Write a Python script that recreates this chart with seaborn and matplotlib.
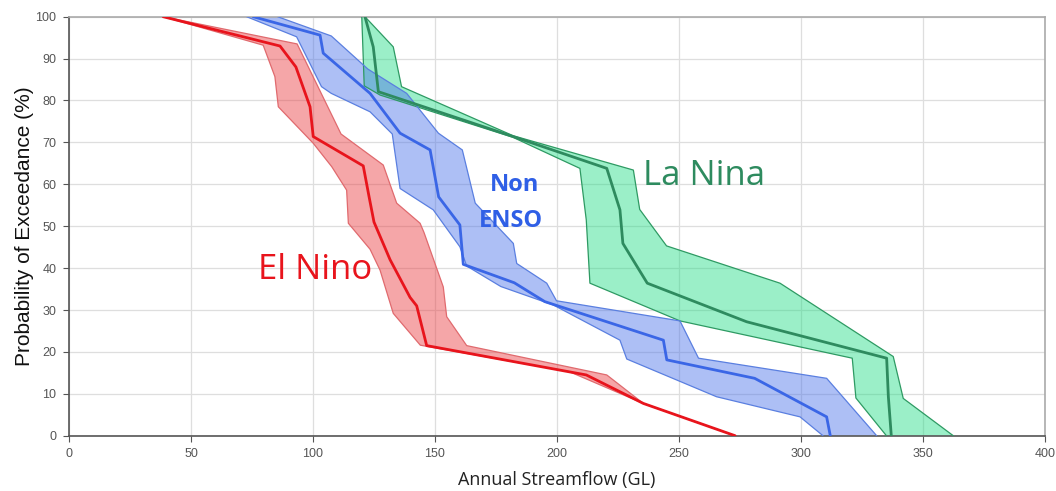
import numpy as np
import pandas as pd
import matplotlib
matplotlib.use("Agg")
import matplotlib.pyplot as plt
import seaborn as sns

# ---------------- data ----------------
el_nino_med_x = [38.6, 86.5, 93.0, 98.8, 100.1, 120.6, 123.0, 125.0, 131.6, 139.8, 142.5, 146.6, 212.0, 235.4, 273.0]
el_nino_med_y = [100, 93.0, 88.0, 78.5, 71.4, 64.4, 57.0, 51.0, 42.0, 33.0, 31.0, 21.5, 14.5, 7.7, 0]
el_nino_up_x = [38.6, 93.5, 111.5, 128.8, 134.3, 143.9, 145.5, 153.4, 154.8, 163.0, 220.4, 235.4, 273.0]
el_nino_up_y = [100, 93.5, 72.0, 64.6, 55.5, 50.7, 48.5, 35.5, 28.4, 21.5, 14.5, 7.7, 0]
el_nino_lo_x = [38.6, 79.6, 84.4, 85.8, 100.1, 107.7, 113.8, 114.5, 123.4, 127.5, 132.9, 144.0, 205.0, 235.4, 273.0]
el_nino_lo_y = [100, 93.2, 85.7, 78.5, 69.8, 64.2, 58.6, 50.7, 44.5, 39.5, 29.2, 21.6, 15.3, 7.7, 0]

non_enso_med_x = [75.5, 102.9, 104.2, 123.4, 135.7, 148.0, 151.5, 160.2, 161.6, 182.5, 195.0, 243.6, 245.0, 281.0, 310.5, 312.0]
non_enso_med_y = [100, 95.6, 91.3, 81.7, 72.2, 68.2, 57.0, 50.3, 40.9, 36.5, 32.0, 22.8, 18.1, 13.7, 4.5, 0]
non_enso_up_x = [85.5, 107.5, 122.5, 138.4, 151.4, 161.2, 166.5, 182.1, 183.5, 195.8, 199.8, 250.4, 258.0, 310.5, 331.0]
non_enso_up_y = [100, 95.4, 87.5, 81.7, 72.2, 68.2, 55.5, 45.9, 41.1, 36.4, 32.2, 27.4, 18.5, 13.7, 0]
non_enso_lo_x = [72.8, 93.3, 103.5, 107.5, 123.4, 132.5, 135.7, 149.3, 160.2, 163.0, 177.0, 198.5, 225.8, 228.6, 265.4, 299.6, 309.0]
non_enso_lo_y = [100, 95.2, 83.3, 81.7, 77.3, 72.0, 59.0, 53.9, 45.1, 40.5, 35.6, 31.2, 22.8, 18.3, 9.3, 4.5, 0]

la_nina_med_x = [121.3, 124.7, 126.8, 182.0, 220.4, 225.8, 227.0, 237.0, 277.7, 335.1, 335.8, 337.0]
la_nina_med_y = [100, 92.8, 82.1, 71.4, 63.8, 53.9, 45.9, 36.4, 27.2, 18.5, 9.3, 0]
la_nina_up_x = [121.3, 132.9, 136.3, 182.0, 231.3, 233.9, 244.9, 291.4, 337.8, 341.9, 362.4]
la_nina_up_y = [100, 92.8, 83.3, 71.6, 63.4, 54.0, 45.3, 36.4, 18.9, 8.9, 0]
la_nina_lo_x = [120.0, 121.0, 127.5, 182.0, 209.4, 212.0, 213.5, 250.4, 321.0, 322.5, 335.0]
la_nina_lo_y = [100, 83.5, 81.3, 71.2, 63.8, 51.5, 36.4, 27.4, 18.5, 9.0, 0]

x_ticks = [0, 50, 100, 150, 200, 250, 300, 350, 400]
y_ticks = [0, 10, 20, 30, 40, 50, 60, 70, 80, 90, 100]

# ---------------- style ----------------
sns.set_theme(style="whitegrid")
plt.rcParams['font.family'] = ['Liberation Sans', 'DejaVu Sans']

fig = plt.figure(figsize=(10.56, 4.91), dpi=100)
ax = fig.add_axes([0.0653, 0.1126, 0.9243, 0.8534])

series = [
    ("La Nina", la_nina_med_x, la_nina_med_y, la_nina_up_x, la_nina_up_y, la_nina_lo_x, la_nina_lo_y,
     "#2e8b5f", "#22dd85", "#2e9a63"),
    ("Non ENSO", non_enso_med_x, non_enso_med_y, non_enso_up_x, non_enso_up_y, non_enso_lo_x, non_enso_lo_y,
     "#3a66e6", "#4a72ea", "#5a7fe0"),
    ("El Nino", el_nino_med_x, el_nino_med_y, el_nino_up_x, el_nino_up_y, el_nino_lo_x, el_nino_lo_y,
     "#e8141c", "#ea3a3f", "#e06a6e"),
]

# bands
for name, mx, my, ux, uy, lx, ly, lc, fc, ec in series:
    px = np.concatenate([np.asarray(ux), np.asarray(lx)[::-1]])
    py = np.concatenate([np.asarray(uy), np.asarray(ly)[::-1]])
    ax.fill(px, py, facecolor=fc, alpha=0.45, edgecolor="none", zorder=2)
    ax.plot(ux, uy, color=ec, lw=0.9, zorder=3)
    ax.plot(lx, ly, color=ec, lw=0.9, zorder=3)

# medians
for name, mx, my, ux, uy, lx, ly, lc, fc, ec in series:
    df = pd.DataFrame({"x": mx, "y": my})
    sns.lineplot(data=df, x="x", y="y", sort=False, estimator=None, color=lc, lw=2.0, ax=ax, zorder=4)

ax.set_xlim(0, 400)
ax.set_ylim(0, 100)
ax.set_xticks(x_ticks)
ax.set_yticks(y_ticks)
ax.tick_params(axis="both", labelsize=9, colors="#555555", length=4, width=0.8, direction="out",
               bottom=True, left=True, pad=5)
ax.grid(True, color="#dedede", lw=0.9)
for side in ["left", "bottom"]:
    ax.spines[side].set_color("#555555")
    ax.spines[side].set_linewidth(1.2)
for side in ["top", "right"]:
    ax.spines[side].set_color("#aaaaaa")
    ax.spines[side].set_linewidth(1.2)

ax.set_xlabel("Annual Streamflow (GL)", fontsize=13, color="#222222", family=["Open Sans", "DejaVu Sans"], labelpad=8)
ax.set_ylabel("Probability of Exceedance (%)", fontsize=15, color="#111111", labelpad=1)

ax.text(100.8, 39.5, "El Nino", color="#e8141c", fontsize=25, family=["Open Sans", "DejaVu Sans"],
        ha="center", va="center", zorder=5)
ax.text(260.2, 62, "La Nina", color="#2e8b5f", fontsize=25, family=["Open Sans", "DejaVu Sans"],
        ha="center", va="center", zorder=5)
ax.text(182.8, 59.8, "Non", color="#2f5fe6", fontsize=17, fontweight="bold",
        family=["Open Sans", "DejaVu Sans"], ha="center", va="center", zorder=5)
ax.text(181, 51.3, "ENSO", color="#2f5fe6", fontsize=17, fontweight="bold",
        family=["Open Sans", "DejaVu Sans"], ha="center", va="center", zorder=5)

fig.savefig("out.png", dpi=100)
